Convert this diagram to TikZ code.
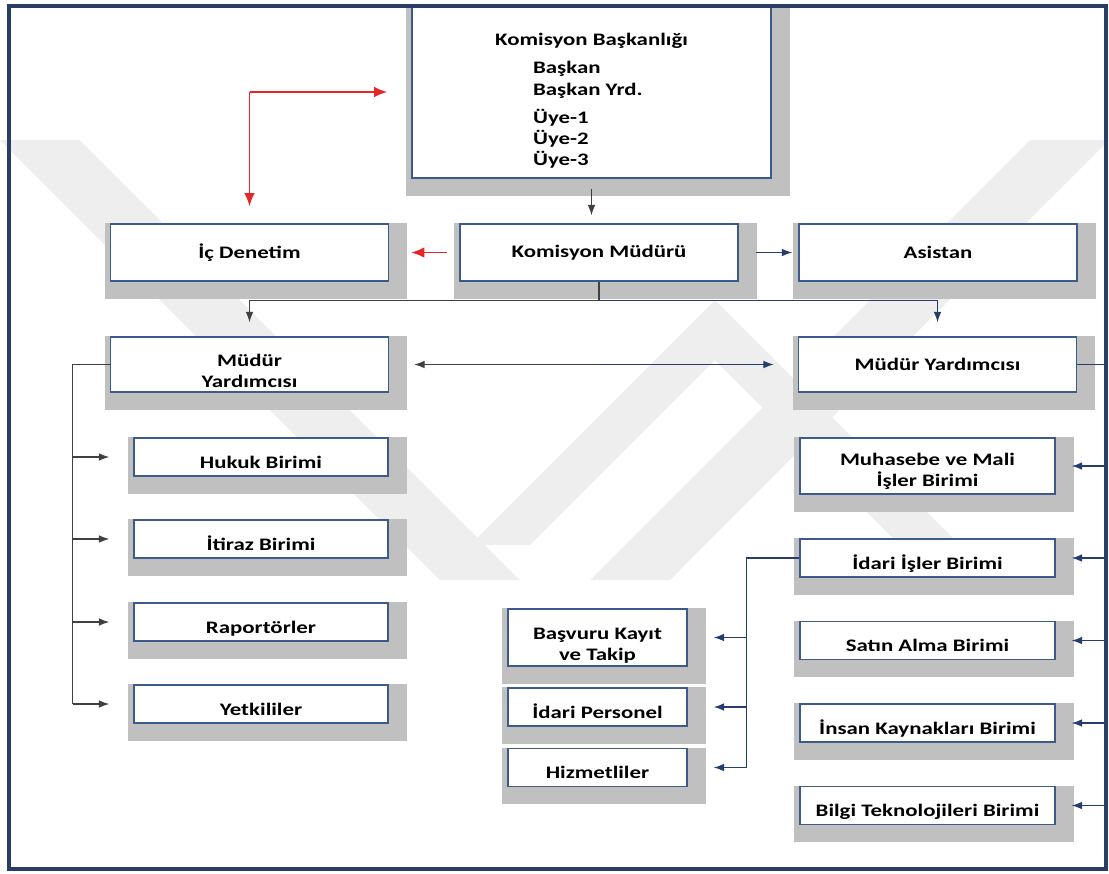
\documentclass[tikz,border=0pt]{standalone}
\usepackage{fontspec}
\setmainfont{Carlito}[FakeStretch=1.3]
\usetikzlibrary{arrows.meta, positioning, backgrounds}

\definecolor{boxline}{RGB}{60,90,140}
\definecolor{frameline}{RGB}{40,62,100}
\definecolor{shadegray}{RGB}{192,192,192}
\definecolor{wmgray}{RGB}{238,238,238}
\definecolor{linkred}{RGB}{232,36,36}
\definecolor{linknavy}{RGB}{38,62,110}
\definecolor{linkdark}{RGB}{64,64,64}

\tikzset{
  unit/.style={draw=boxline, line width=0.8pt, fill=white, inner sep=0pt,
    align=center, font=\bfseries\fontsize{10}{12}\selectfont},
  low/.style={text height=13pt, text depth=0pt},
  big/.style={unit, minimum width=5.56cm, minimum height=1.14cm},
  mid/.style={unit, minimum width=5.10cm, minimum height=0.76cm},
  small/.style={unit, minimum width=3.58cm, minimum height=0.76cm},
  darkline/.style={draw=linkdark, line width=0.7pt},
  navyline/.style={draw=linknavy, line width=0.7pt},
  redline/.style={draw=linkred, line width=1pt, >={Latex[length=7.5pt,width=6pt]}},
  frame/.style={draw=frameline, line width=1.8pt}
}
\newcommand\dropshade[1]{\fill[shadegray] ([xshift=-0.1cm]#1.north west) rectangle ([xshift=0.36cm,yshift=-0.34cm]#1.south east);}

\begin{document}
\begin{tikzpicture}[x=0.02cm,y=-0.02cm,>={Latex[length=6pt,width=4.4pt]}]
  \useasboundingbox (0,0) rectangle (1109,873);

  \node[unit, align=left, minimum width=7.18cm, minimum height=3.44cm] (baskanlik) at (591.5,92)
    {\rule{0pt}{17pt}Komisyon Başkanlığı\\[4pt]\hspace*{0.76cm}Başkan\\\hspace*{0.76cm}Başkan Yrd.\\[4pt]\hspace*{0.76cm}Üye-1\\\hspace*{0.76cm}Üye-2\\\hspace*{0.76cm}Üye-3};

  \node[big] (denetim)  at (249.5,252.5) {İç Denetim};
  \node[big] (mudur)    at (599,252.5)   {Komisyon Müdürü};
  \node[big] (asistan)  at (938,252.5)   {Asistan};
  \node[big, minimum height=1.10cm] (yardL) at (249.5,364.5) {\rule{0pt}{14pt}Müdür\\Yardımcısı};
  \node[big, minimum height=1.10cm] (yardR) at (937.5,364.5) {Müdür Yardımcısı};

  \node[mid, low, minimum width=5.08cm] (hukuk)    at (261,457) {Hukuk Birimi};
  \node[mid, low, minimum width=5.08cm] (itiraz)   at (261,539) {İtiraz Birimi};
  \node[mid, low, minimum width=5.08cm] (raportor) at (261,622) {Raportörler};
  \node[mid, low, minimum width=5.08cm] (yetkili)  at (261,704) {Yetkililer};

  \node[mid, minimum height=1.12cm] (muhasebe) at (927.5,466) {\rule{0pt}{13pt}Muhasebe ve Mali\\İşler Birimi};
  \node[mid, low] (idari)  at (927.5,558)   {İdari İşler Birimi};
  \node[mid, low] (satin)  at (927.5,640.5) {Satın Alma Birimi};
  \node[mid, low] (insan)  at (927.5,723)   {İnsan Kaynakları Birimi};
  \node[mid, low] (bilgi)  at (927.5,805.5) {Bilgi Teknolojileri Birimi};

  \node[small, minimum height=1.14cm] (basvuru) at (597.5,637.5) {\rule{0pt}{16pt}Başvuru Kayıt\\ve Takip};
  \node[small, low] (personel) at (597.5,707)   {İdari Personel};
  \node[small, low] (hizmet)   at (597.5,767.5) {Hizmetliler};

  \begin{scope}[on background layer]
    \fill[wmgray] (0,140) -- (80,140) -- (520,580) -- (440,580) -- cycle;
    \fill[wmgray] (1109,140) -- (1030,140) -- (590,580) -- (670,580) -- cycle;
    \fill[wmgray] (715,300) -- (960,545) -- (900,545) -- (715,360) -- (530,545) -- (470,545) -- cycle;
    \foreach \n in {baskanlik,denetim,mudur,asistan,yardL,yardR,hukuk,itiraz,raportor,yetkili,muhasebe,idari,satin,insan,bilgi,basvuru,personel,hizmet}
      {\dropshade{\n}}
  \end{scope}

  \draw[frame] (9,6) rectangle (1106,869);

  % top level
  \coordinate (corner) at (denetim.north |- baskanlik.west);
  \draw[redline,->] (corner) -- ([xshift=-0.48cm]baskanlik.west);
  \draw[redline,->] (corner) -- ([yshift=0.34cm]denetim.north);
  \draw[darkline,->] ([yshift=-0.2cm]baskanlik.south) -- ([yshift=0.16cm]baskanlik.south |- mudur.north);
  \draw[redline,->] ([xshift=-0.24cm]mudur.west) -- ([xshift=0.44cm]denetim.east);
  \draw[navyline,->] ([xshift=0.34cm]mudur.east) -- ([xshift=-0.12cm]asistan.west);

  \coordinate (split) at ([yshift=-0.38cm]mudur.south);
  \draw[darkline,->] (mudur.south) -- (split) -| ([yshift=0.28cm]yardL.north);
  \draw[navyline,->] (split) -| ([yshift=0.28cm]yardR.north);

  \coordinate (between) at (split |- yardL.east);
  \draw[darkline,->] (between) -- ([xshift=0.5cm]yardL.east);
  \draw[navyline,->] (between) -- ([xshift=-0.48cm]yardR.west);

  % left branch
  \coordinate (lbus) at ([xshift=-0.74cm]yardL.west);
  \draw[darkline] (yardL.west) -- (lbus) -- (lbus |- yetkili.west);
  \foreach \n in {hukuk,itiraz,raportor,yetkili}
    \draw[darkline,->] (lbus |- \n.west) -- ([xshift=-0.48cm]\n.west);

  % right branch
  \coordinate (rbus) at ([xshift=0.56cm]yardR.east);
  \draw[navyline] (yardR.east) -- (rbus) -- (rbus |- bilgi.east);
  \foreach \n in {muhasebe,idari,satin,insan,bilgi}
    \draw[navyline,->] (rbus |- \n.east) -- ([xshift=0.32cm]\n.east);

  \coordinate (ibus) at ([xshift=-1.06cm]idari.west);
  \draw[navyline] (idari.west) -- (ibus) -- (ibus |- hizmet.east);
  \foreach \n in {basvuru,personel,hizmet}
    \draw[navyline,->] (ibus |- \n.east) -- ([xshift=0.52cm]\n.east);
\end{tikzpicture}
\end{document}
